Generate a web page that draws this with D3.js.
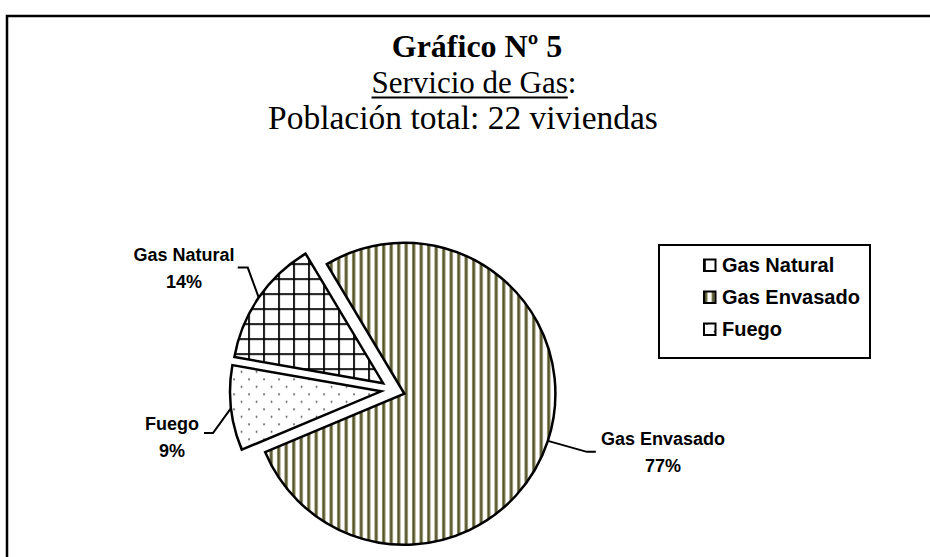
<head>
<meta charset="utf-8">
<script src="https://cdn.jsdelivr.net/npm/d3@7"></script>
<style>
  body { margin: 0; background: #fff; }
</style>
</head>
<body>
<script>
    // datos del gráfico
    const categories = ["Gas Natural", "Gas Envasado", "Fuego"];
    const viviendas = [3, 17, 2];
    const percentLabels = ["14%", "77%", "9%"];
    const titleLines = ["Gráfico Nº 5", "Servicio de Gas:", "Población total: 22 viviendas"];

    const width = 930;
    const height = 557;
    const cx = 393, cy = 390, R = 151, explode = 12;
    const startDeg = 280;

    // posiciones de las etiquetas (relativas al centro del pie)
    const labelLayout = {
        "Gas Natural":  {elbow: [-11, -30], end: [-10, 0], text: [-209, -129]},
        "Gas Envasado": {elbow: [39, 11], end: [9, 0], text: [270, 55]},
        "Fuego":        {elbow: [-18, 25], end: [-9, 0], text: [-221, 40]}
    };

    const svg = d3.select("body").append("svg")
        .attr("width", width)
        .attr("height", height);

    const defs = svg.append("defs");

    // cuadricula para Gas Natural
    const grid = defs.append("pattern")
        .attr("id", "pGrid")
        .attr("patternUnits", "userSpaceOnUse")
        .attr("width", 15).attr("height", 15);
    grid.append("rect").attr("width", 15).attr("height", 15).attr("fill", "#fff");
    grid.append("rect").attr("x", 0).attr("y", 0).attr("width", 1.8).attr("height", 15).attr("fill", "#000");
    grid.append("rect").attr("x", 0).attr("y", 0).attr("width", 15).attr("height", 1.8).attr("fill", "#000");

    // rayas verticales para Gas Envasado
    const stripes = defs.append("pattern")
        .attr("id", "pStripes")
        .attr("patternUnits", "userSpaceOnUse")
        .attr("width", 7.5).attr("height", 10);
    stripes.append("rect").attr("width", 7.5).attr("height", 10).attr("fill", "#fff");
    stripes.append("rect").attr("x", 0).attr("width", 1).attr("height", 10).attr("fill", "#94946a");
    stripes.append("rect").attr("x", 1).attr("width", 1.7).attr("height", 10).attr("fill", "#45451a");
    stripes.append("rect").attr("x", 2.7).attr("width", 0.9).attr("height", 10).attr("fill", "#94946a");

    // puntos para Fuego
    const dots = defs.append("pattern")
        .attr("id", "pDots")
        .attr("patternUnits", "userSpaceOnUse")
        .attr("width", 15).attr("height", 15);
    dots.append("rect").attr("width", 15).attr("height", 15).attr("fill", "#fff");
    dots.append("circle").attr("cx", 3).attr("cy", 3).attr("r", 0.9).attr("fill", "#444");
    dots.append("circle").attr("cx", 10.5).attr("cy", 10.5).attr("r", 0.9).attr("fill", "#444");

    const fills = d3.scaleOrdinal()
        .domain(categories)
        .range(["url(#pGrid)", "url(#pStripes)", "url(#pDots)"]);

    // marco
    svg.append("rect")
        .attr("x", 7).attr("y", 16)
        .attr("width", 1000).attr("height", 1000)
        .attr("fill", "none")
        .attr("stroke", "#000")
        .attr("stroke-width", 2.5);

    // titulos
    const tg = svg.append("g")
        .attr("font-family", "'Liberation Serif', 'Times New Roman', serif")
        .attr("text-anchor", "middle")
        .attr("fill", "#000");
    tg.append("text").attr("x", 477).attr("y", 57)
        .attr("font-size", 32).attr("font-weight", "bold").text(titleLines[0]);
    const sub = tg.append("text").attr("x", 474).attr("y", 92.5)
        .attr("font-size", 31).text(titleLines[1]);
    tg.append("text").attr("x", 463).attr("y", 129)
        .attr("font-size", 33.5).text(titleLines[2]);
    // subrayado (sin los dos puntos)
    const subW = sub.node().getComputedTextLength();
    const colonW = tg.append("text").attr("font-size", 31).attr("opacity", 0).text(":").node().getComputedTextLength();
    svg.append("line")
        .attr("x1", 474 - subW / 2).attr("x2", 474 + subW / 2 - colonW)
        .attr("y1", 97.5).attr("y2", 97.5)
        .attr("stroke", "#000").attr("stroke-width", 2);

    // pie
    const data = categories.map((c, i) => ({name: c, value: viviendas[i], pct: percentLabels[i]}));
    const a0 = startDeg * Math.PI / 180;
    const pie = d3.pie().sort(null).value(d => d.value)
        .startAngle(a0).endAngle(a0 + 2 * Math.PI);
    const arc = d3.arc().innerRadius(0).outerRadius(R);
    const arcs = pie(data);

    const mid = d => (d.startAngle + d.endAngle) / 2;
    const dir = d => [Math.sin(mid(d)), -Math.cos(mid(d))];

    const pg = svg.append("g").attr("transform", `translate(${cx},${cy})`);
    pg.selectAll("path")
        .data(arcs)
        .join("path")
        .attr("transform", d => `translate(${dir(d)[0] * explode},${dir(d)[1] * explode})`)
        .attr("d", arc)
        .attr("fill", d => fills(d.data.name))
        .attr("stroke", "#000")
        .attr("stroke-width", 2.5)
        .attr("stroke-linejoin", "miter");

    // lineas guia y etiquetas
    const lg = pg.append("g");
    arcs.forEach(d => {
        const L = labelLayout[d.data.name];
        const s = [dir(d)[0] * (R + explode), dir(d)[1] * (R + explode)];
        const e = [s[0] + L.elbow[0], s[1] + L.elbow[1]];
        const f = [e[0] + L.end[0], e[1] + L.end[1]];
        lg.append("path")
            .attr("d", d3.line()([s, e, f]))
            .attr("fill", "none")
            .attr("stroke", "#000")
            .attr("stroke-width", 2);
        const t = lg.append("text")
            .attr("font-family", "'Liberation Sans', Arial, sans-serif")
            .attr("font-weight", "bold")
            .attr("font-size", 18)
            .attr("text-anchor", "middle")
            .attr("fill", "#000");
        t.append("tspan").attr("x", L.text[0]).attr("y", L.text[1]).text(d.data.name);
        t.append("tspan").attr("x", L.text[0]).attr("y", L.text[1] + 27).text(d.data.pct);
    });

    // leyenda
    const leg = svg.append("g").attr("transform", "translate(659,245)");
    leg.append("rect")
        .attr("width", 211).attr("height", 113)
        .attr("fill", "#fff")
        .attr("stroke", "#000")
        .attr("stroke-width", 2);
    const items = leg.selectAll("g.item")
        .data(categories)
        .join("g")
        .attr("class", "item")
        .attr("transform", (d, i) => `translate(0,${27 + i * 32})`);
    items.append("rect")
        .attr("x", 45).attr("y", -12.5)
        .attr("width", 11.5).attr("height", 11.5)
        .attr("fill", d => fills(d))
        .attr("stroke", "#000")
        .attr("stroke-width", 2);
    items.append("text")
        .attr("x", 63).attr("y", 0)
        .attr("font-family", "'Liberation Sans', Arial, sans-serif")
        .attr("font-weight", "bold")
        .attr("font-size", 20)
        .text(d => d);
</script>
</body>
